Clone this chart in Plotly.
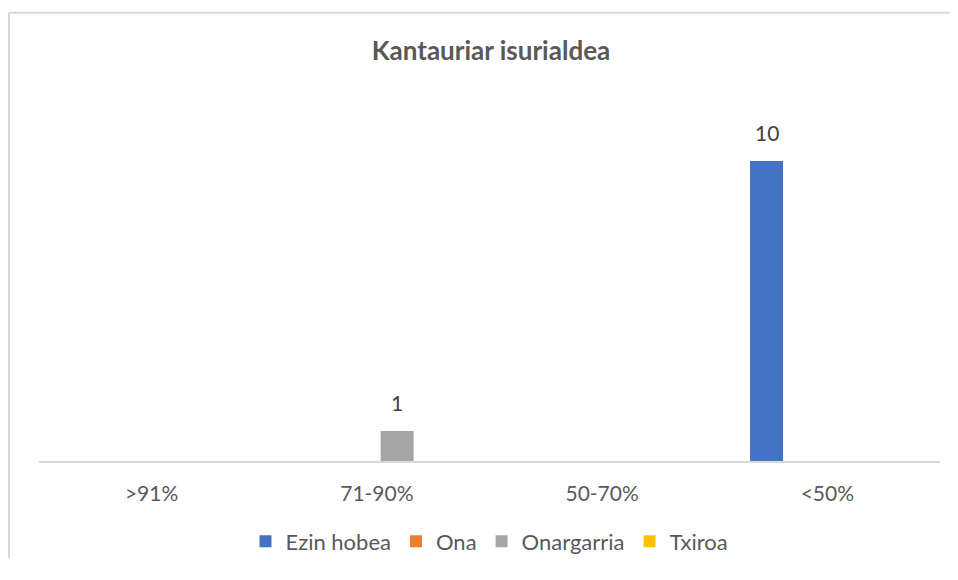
import plotly.graph_objects as go

categories = [">91%", "71-90%", "50-70%", "<50%"]
series_names = ["Ezin hobea", "Ona", "Onargarria", "Txiroa"]
ezin_hobea = [None, None, None, 10]
ona = [None, None, None, None]
onargarria = [None, 1, None, None]
txiroa = [None, None, None, None]
colors = ["#4472C4", "#ED7D31", "#A5A5A5", "#FFC000"]

# the page body has an 8px default margin; size the figure so the page never scrolls
OFF = 8
W, H = 958 - 2 * OFF, 580 - 2 * OFF
# plot area in figure pixels
L, R = 39 - OFF, W - (940 - OFF)
T, B = 93, 100
BARGAP, GROUPGAP = 0.28, 0.185

fig = go.Figure()
all_vals = [ezin_hobea, ona, onargarria, txiroa]
for name, vals, col in zip(series_names, all_vals, colors):
    fig.add_trace(go.Bar(
        x=categories, y=vals, name=name, marker_color=col, marker_line_width=0,
    ))

pw = W - L - R
ph = H - T - B
ncat = len(categories)
nser = len(series_names)
slot = pw / ncat * (1 - BARGAP) / nser
for i, vals in enumerate(all_vals):
    for cat, v in zip(categories, vals):
        if v is None:
            continue
        fig.add_annotation(x=cat, y=v, xref="x", yref="y", text=str(v), showarrow=False,
                           xshift=(i - (nser - 1) / 2) * slot, yanchor="bottom", yshift=14,
                           font=dict(family="Lato", size=21, color="#404040"))

# chart-area border (only top and left edges visible in the frame)
bx = (9 - OFF - L) / pw
by = 1 + (T - 2) / ph
fig.add_shape(type="line", xref="paper", yref="paper", x0=bx, x1=(W - L) / pw, y0=by, y1=by,
              line=dict(color="#D9D9D9", width=2), layer="below")
fig.add_shape(type="line", xref="paper", yref="paper", x0=bx, x1=bx, y0=by, y1=-(H - T - ph) / ph,
              line=dict(color="#D9D9D9", width=2), layer="below")

fig.update_layout(
    width=W, height=H,
    margin=dict(l=L, r=R, t=T, b=B),
    paper_bgcolor="white", plot_bgcolor="white",
    barmode="group", bargap=BARGAP, bargroupgap=GROUPGAP,
    title=dict(text="<b>Kantauriar isurialdea</b>", x=(491 - OFF) / W, xref="container", xanchor="center",
               y=1 - 43 / H, yref="container", yanchor="middle",
               font=dict(family="Lato", size=26, color="#595959")),
    font=dict(family="Lato", color="#595959"),
    xaxis=dict(showline=True, linecolor="#D9D9D9", linewidth=2, ticks="outside", ticklen=13,
               tickcolor="rgba(0,0,0,0)", tickfont=dict(family="Lato", size=21, color="#595959"),
               showgrid=False, zeroline=False),
    yaxis=dict(range=[0, 12], visible=False, showgrid=False, zeroline=False),
    legend=dict(orientation="h", x=0.5, xanchor="center", y=1 - (547 - T) / ph, yanchor="middle",
                font=dict(family="Lato", size=22, color="#595959"), itemwidth=30,
                traceorder="normal"),
    showlegend=True,
)

fig.write_html("out.html")
